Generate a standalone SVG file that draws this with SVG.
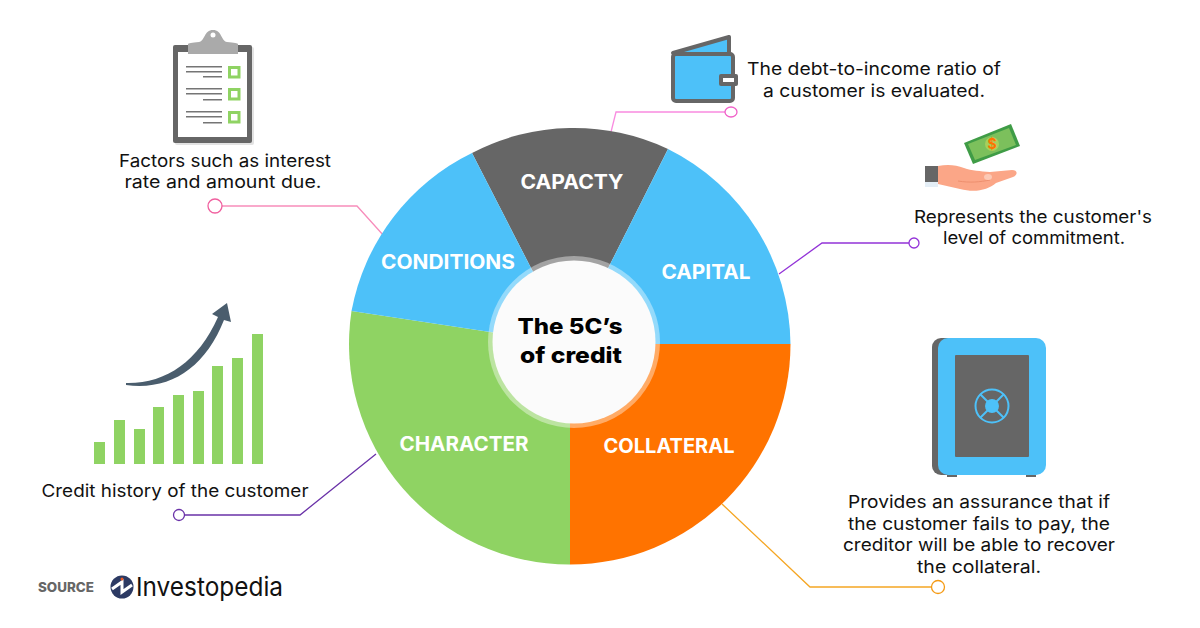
<svg xmlns="http://www.w3.org/2000/svg" width="1200" height="628" viewBox="0 0 1200 628">
<style>
.t{font-family:Inter,"Liberation Sans",sans-serif;font-size:17.5px;fill:#111;text-anchor:middle}
.l{font-family:Inter,"Liberation Sans",sans-serif;font-size:19.5px;font-weight:700;fill:#fff;text-anchor:middle}
.c{font-family:Inter,"Liberation Sans",sans-serif;font-size:22px;font-weight:800;fill:#000;text-anchor:middle}
.w{fill:none;stroke-width:1.3}
.d{fill:#fff;stroke-width:1.3}
.b{fill:#8fd363}
.g{fill:#666}
.h{fill:#757575}
</style>
<rect width="1200" height="628" fill="#fff"/>
<g id="connectors">
<path class="w" stroke="#f78dbb" d="M221 206H357L384 236"/><circle class="d" stroke="#f0609f" cx="215" cy="206" r="7"/>
<path class="w" stroke="#f98be0" d="M611 132L616 112H725"/><ellipse class="d" stroke="#f060c8" cx="731" cy="112" rx="6" ry="5"/>
<path class="w" stroke="#9333d8" d="M779 274L822 243H909"/><circle class="d" stroke="#9333d8" cx="914" cy="243" r="5"/>
<path class="w" stroke="#f5a623" d="M722 504L810 587H932"/><circle class="d" stroke="#f59a13" cx="938" cy="587" r="6.500"/>
<path class="w" stroke="#6a32a8" d="M376 454L300 515H185"/><circle class="d" stroke="#6a32a8" cx="179" cy="515" r="5.500"/>
</g>
<g id="wheel">
<path id="wedge-capacity" fill="#666" d="M570 344L472 153A220.500 220.500 0 0 1 668 149Z"/>
<path id="wedge-capital" fill="#4dc1f9" d="M570 344L668 149A220.500 220.500 0 0 1 790.500 344Z"/>
<path id="wedge-collateral" fill="#ff7300" d="M570 344H790.500A220.500 220.500 0 0 1 570 564.500Z"/>
<path id="wedge-character" fill="#8fd363" d="M570 344V564.500A220.500 220.500 0 0 1 351.500 311Z"/>
<path id="wedge-conditions" fill="#4dc1f9" d="M570 344L351.500 311A220.500 220.500 0 0 1 472 153Z"/>
</g>
<g id="node-center">
<circle cx="574" cy="342" r="86" fill="#fff" opacity=".4"/>
<circle cx="574" cy="342" r="81.500" fill="#fbfbfb"/>
<text class="c" x="570" y="334" textLength="105" lengthAdjust="spacingAndGlyphs">The 5C’s</text>
<text class="c" x="571" y="363" textLength="102" lengthAdjust="spacingAndGlyphs">of credit</text>
</g>
<g id="node-capacity"><text class="l" x="572" y="189" textLength="103" lengthAdjust="spacingAndGlyphs">CAPACTY</text></g>
<g id="node-conditions"><text class="l" x="448" y="269" textLength="134" lengthAdjust="spacingAndGlyphs">CONDITIONS</text></g>
<g id="node-capital"><text class="l" x="706" y="279" textLength="89" lengthAdjust="spacingAndGlyphs">CAPITAL</text></g>
<g id="node-character"><text class="l" x="464" y="451" textLength="129" lengthAdjust="spacingAndGlyphs">CHARACTER</text></g>
<g id="node-collateral"><text class="l" x="669" y="453" textLength="131" lengthAdjust="spacingAndGlyphs">COLLATERAL</text></g>
<g id="factors">
<rect x="175" y="47" width="79" height="98" rx="2" fill="#e2e2e2"/>
<rect x="173" y="45" width="79" height="98" rx="2" fill="#666"/>
<rect x="178" y="52" width="69" height="85" fill="#fff"/>
<path d="M188 54V44Q188 43 199 42C205 41 204 30 213 30C222 30 221 41 227 42Q238 43 238 44V54Z" fill="#aaa"/>
<circle cx="213" cy="35" r="2.500" fill="#fff"/>
<g class="h">
<rect x="186" y="66" width="36" height="1.500"/><rect x="186" y="71" width="36" height="1.500"/><rect x="203" y="76" width="19" height="1.500"/>
<rect x="186" y="88" width="36" height="1.500"/><rect x="186" y="93" width="36" height="1.500"/><rect x="203" y="99" width="19" height="1.500"/>
<rect x="186" y="111" width="36" height="1.500"/><rect x="186" y="116" width="36" height="1.500"/><rect x="203" y="122" width="19" height="1.500"/>
</g>
<g fill="#fff" stroke="#8fd363" stroke-width="3">
<rect x="229.500" y="67.500" width="9.500" height="9.500"/><rect x="229.500" y="89.500" width="9.500" height="9.500"/><rect x="229.500" y="112.500" width="9.500" height="9.500"/>
</g>
<text class="t" x="225" y="167" textLength="212" lengthAdjust="spacingAndGlyphs">Factors such as interest</text>
<text class="t" x="223" y="188" textLength="197" lengthAdjust="spacingAndGlyphs">rate and amount due.</text>
</g>
<g id="wallet">
<path d="M673 53L729 37V58Z" fill="#4dc1f9" stroke="#666" stroke-width="4" stroke-linejoin="round"/>
<rect x="673" y="54" width="60" height="47" rx="3" fill="#4dc1f9" stroke="#666" stroke-width="4"/>
<rect x="719" y="74" width="19" height="12" rx="2" fill="#666"/>
<rect x="723" y="78" width="11" height="4" fill="#fff"/>
<text class="t" x="874" y="75" textLength="254" lengthAdjust="spacingAndGlyphs">The debt-to-income ratio of</text>
<text class="t" x="874" y="97" textLength="222" lengthAdjust="spacingAndGlyphs">a customer is evaluated.</text>
</g>
<g id="hand">
<path d="M964 143L1011 124L1020 146L973 164Z" fill="#3f9c46"/>
<path d="M968 144L1009 128L1016 145L975 160Z" fill="#7cc05c"/>
<circle cx="992" cy="144" r="7" fill="#a8cf5c"/>
<text x="992" y="149" font-family="Inter,sans-serif" font-size="14" font-weight="700" fill="#ff7300" text-anchor="middle">$</text>
<rect x="925" y="166" width="13" height="16" fill="#666"/>
<rect x="925" y="182" width="13" height="5" fill="#e4eef6"/>
<path d="M938 166C948 164 956 165 964 168C972 171 980 171 990 172L1012 170C1018 170 1018 175 1013 177L996 183C988 190 975 193 960 189L938 184Z" fill="#fba687"/>
<path d="M958 181C970 183 980 182 990 180" fill="none" stroke="#ee8f6e" stroke-width="1"/>
<ellipse cx="988" cy="177" rx="4" ry="3" fill="#fcc9b5"/>
<text class="t" x="1033" y="223" textLength="238" lengthAdjust="spacingAndGlyphs">Represents the customer's</text>
<text class="t" x="1034" y="244" textLength="182" lengthAdjust="spacingAndGlyphs">level of commitment.</text>
</g>
<g id="safe">
<rect x="932" y="338" width="30" height="137" rx="9" fill="#666"/>
<rect x="947" y="474" width="10" height="3" fill="#666"/><rect x="1026" y="474" width="10" height="3" fill="#666"/>
<rect x="938" y="338" width="108" height="137" rx="10" fill="#4dc1f9"/>
<rect x="955" y="355" width="74" height="102" rx="1" fill="#666"/>
<circle cx="992" cy="406" r="16.500" fill="none" stroke="#4dc1f9" stroke-width="2"/>
<path d="M980 394L1004 418M1004 394L980 418" stroke="#4dc1f9" stroke-width="2"/>
<circle cx="992" cy="406" r="7" fill="#4dc1f9"/>
<text class="t" x="979" y="508" textLength="262" lengthAdjust="spacingAndGlyphs">Provides an assurance that if</text>
<text class="t" x="979" y="530" textLength="262" lengthAdjust="spacingAndGlyphs">the customer fails to pay, the</text>
<text class="t" x="979" y="551" textLength="272" lengthAdjust="spacingAndGlyphs">creditor will be able to recover</text>
<text class="t" x="979" y="573" textLength="124" lengthAdjust="spacingAndGlyphs">the collateral.</text>
</g>
<g id="chart">
<g class="b">
<rect x="94" y="442" width="11" height="22"/><rect x="114" y="420" width="11" height="44"/><rect x="134" y="429" width="11" height="35"/><rect x="153" y="407" width="11" height="57"/><rect x="173" y="395" width="11" height="69"/><rect x="193" y="391" width="11" height="73"/><rect x="212" y="366" width="11" height="98"/><rect x="232" y="358" width="11" height="106"/><rect x="252" y="334" width="11" height="130"/>
</g>
<path d="M126 383C165 384 198 362 218 317L212 314L227 303L231 322L224 320C205 368 170 391 126 385Z" fill="#4a5d6d"/>
<text class="t" x="175" y="497" textLength="267" lengthAdjust="spacingAndGlyphs">Credit history of the customer</text>
</g>
<g id="source">
<text x="38" y="592" font-family="Inter,sans-serif" font-size="13" font-weight="800" fill="#666" textLength="56" lengthAdjust="spacingAndGlyphs">SOURCE</text>
<circle cx="122" cy="587" r="11.500" fill="#2c3a63"/>
<path d="M112 589L122 582V592L132 585" fill="none" stroke="#fff" stroke-width="3"/>
<circle cx="122" cy="579" r="1.500" fill="#f05a22"/>
<text x="136" y="596" font-family="Inter,sans-serif" font-size="26" fill="#111" textLength="147" lengthAdjust="spacingAndGlyphs">Investopedia</text>
</g>
</svg>
